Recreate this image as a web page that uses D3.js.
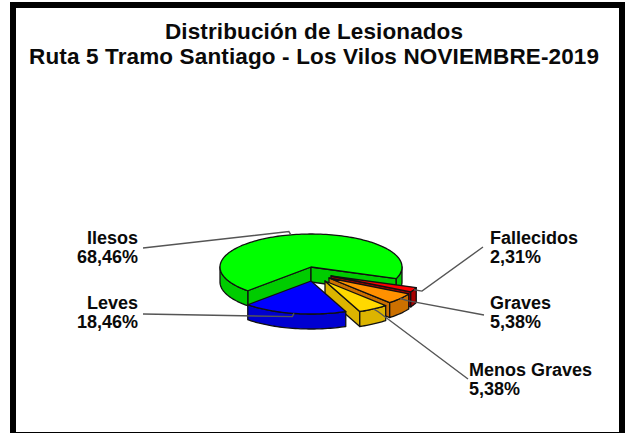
<!DOCTYPE html>
<html>
<head>
<meta charset="utf-8">
<script src="https://cdn.jsdelivr.net/npm/d3@7"></script>
<style>
  html, body { margin: 0; padding: 0; background: #fff; }
  svg { display: block; }
  text { font-family: "Liberation Sans", Arial, sans-serif; font-weight: bold; fill: #0a0a0a; }
</style>
</head>
<body>
<script>
// chart data, clockwise from the left cut of the green slice
var categories = ["Ilesos", "Fallecidos", "Graves", "Menos Graves", "Leves"];
var values = [68.46, 2.31, 5.38, 5.38, 18.46];
var valueLabels = ["68,46%", "2,31%", "5,38%", "5,38%", "18,46%"];
var topColors = ["#00ff00", "#ff0000", "#ff9000", "#ffd800", "#0000ff"];
var wallColors = ["#00cc00", "#a80000", "#cc7000", "#dcb400", "#0000d0"];
var titleLines = ["Distribución de Lesionados", "Ruta 5 Tramo Santiago - Los Vilos NOVIEMBRE-2019"];

var width = 630,
    height = 433;

// pie geometry
var cx = 311, cy = 267, rx = 91, ry = 33, depth = 15;
// how far each slice is pulled out of the pie
var explode = [[0, 0], [20, 9], [18, 11], [14, 14], [0, 14]];
// where each label leader ends and where its text sits
var labelEnds = [[143, 248], [483, 247], [484, 315], [468, 379], [143, 314]];
var labelPos = [[138, 244], [490, 244], [490, 309], [469, 376], [138, 309]];
var labelAnchor = ["end", "start", "start", "start", "end"];

var svg = d3.select("body").append("svg")
    .attr("width", width)
    .attr("height", height);

svg.append("rect").attr("width", width).attr("height", height).attr("fill", "#fff");

// the thick black frame, its bottom edge only just shows in the window
svg.append("rect")
    .attr("x", 13)
    .attr("y", 5)
    .attr("width", 609)
    .attr("height", 430)
    .attr("fill", "none")
    .attr("stroke", "#000")
    .attr("stroke-width", 6);

// both lines were stretched differently in the source, so fit them to their width
var titleWidths = [298, 570];
svg.selectAll(".title")
  .data(titleLines)
  .enter().append("text")
    .attr("class", "title")
    .attr("x", 314)
    .attr("y", function(d, i) { return 39 + i * 25; })
    .attr("text-anchor", "middle")
    .attr("font-size", 22.5)
    .attr("textLength", function(d, i) { return titleWidths[i]; })
    .attr("lengthAdjust", "spacing")
    .text(function(d) { return d; });

// d3 pie angles: 0 is north, clockwise. 224 deg starts at the left cut
var pie = d3.pie()
    .sort(null)
    .startAngle(224 * Math.PI / 180)
    .endAngle((224 + 360) * Math.PI / 180);
var slices = pie(values);

function rim(a, i, k) {
  k = k || 1;
  return [cx + explode[i][0] + rx * k * Math.sin(a),
          cy + explode[i][1] - ry * k * Math.cos(a)];
}
function apex(i) { return [cx + explode[i][0], cy + explode[i][1]]; }
function down(p) { return [p[0], p[1] + depth]; }

function arcPoints(a0, a1, i) {
  var n = Math.max(2, Math.ceil(Math.abs(a1 - a0) / 0.03));
  return d3.range(n + 1).map(function(j) {
    return rim(a0 + (a1 - a0) * j / n, i);
  });
}

var line = d3.line();

function poly(g, pts, fill) {
  g.append("path")
      .attr("d", line(pts) + "Z")
      .attr("fill", fill)
      .attr("stroke", "#111")
      .attr("stroke-width", 1.3)
      .attr("stroke-linejoin", "round");
}

// walls only face the viewer on the lower half of the ellipse
function drawWalls(g, d, i) {
  var a0 = d.startAngle, a1 = d.endAngle, fill = wallColors[i];
  var TAU = Math.PI * 2;

  // cut faces: the green slice shows both, the others only their clockwise one
  if (i == 0) {
    var p = rim(a0, i), c = apex(i);
    poly(g, [c, p, down(p), down(c)], fill);
  }
  var eDeg = ((a1 % TAU) + TAU) % TAU;
  if (eDeg > Math.PI / 2 && eDeg < Math.PI || i == 0) {
    var q = rim(a1, i), c2 = apex(i);
    poly(g, [c2, q, down(q), down(c2)], fill);
  }

  // outer rim, front half only (north + 90 to north + 270 deg)
  [[Math.PI / 2, Math.PI * 3 / 2], [Math.PI / 2 + TAU, Math.PI * 3 / 2 + TAU]].forEach(function(r) {
    var lo = Math.max(a0, r[0]), hi = Math.min(a1, r[1]);
    if (hi > lo) {
      var pts = arcPoints(lo, hi, i);
      poly(g, pts.concat(pts.slice().reverse().map(down)), fill);
    }
  });
}

// paint back to front
[0, 1, 2, 3, 4].forEach(function(i) {
  var d = slices[i];
  var g = svg.append("g").attr("class", "slice");
  drawWalls(g, d, i);
  poly(g, [apex(i)].concat(arcPoints(d.startAngle, d.endAngle, i)), topColors[i]);
});

// leaders start on the rim at the middle of each slice
slices.forEach(function(d, i) {
  var mid = (d.startAngle + d.endAngle) / 2;
  svg.append("path")
      .attr("d", line([rim(mid, i), rim(mid, i, 1.1), labelEnds[i]]))
      .attr("fill", "none")
      .attr("stroke", "#555")
      .attr("stroke-width", 1.4);
});

slices.forEach(function(d, i) {
  var t = svg.append("text")
      .attr("x", labelPos[i][0])
      .attr("y", labelPos[i][1])
      .attr("text-anchor", labelAnchor[i])
      .attr("font-size", 18);
  t.append("tspan").text(categories[i]);
  t.append("tspan")
      .attr("x", labelPos[i][0])
      .attr("dy", 19)
      .text(valueLabels[i]);
});
</script>
</body>
</html>
